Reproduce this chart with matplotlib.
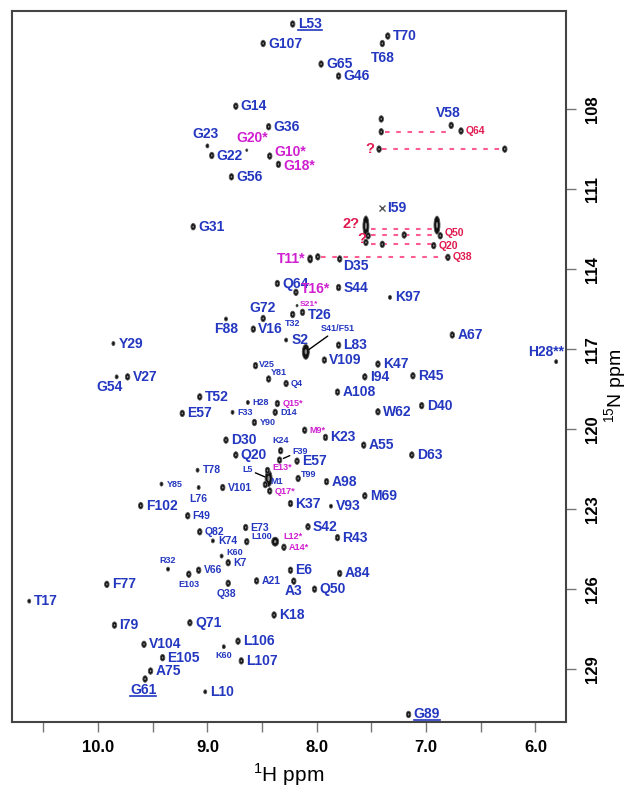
import matplotlib
matplotlib.use('Agg')
import matplotlib.pyplot as plt
from matplotlib.patches import Ellipse
from matplotlib.lines import Line2D
from matplotlib.ticker import MultipleLocator, FormatStrFormatter

plt.rcParams['font.family'] = ['Liberation Sans', 'DejaVu Sans']
plt.rcParams['mathtext.fontset'] = 'custom'
plt.rcParams['mathtext.rm'] = 'Liberation Sans'
plt.rcParams['mathtext.bf'] = 'Liberation Sans:bold'

# assigned backbone amides, big blue labels
blue_labels = ['L53', 'G107', 'G65', 'G46', 'T70', 'T68', 'G14', 'G36', 'G23', 'G22',
               'G56', 'G31', 'V58', 'I59', 'D35', 'Q64', 'S44', 'T26', 'G72', 'F88',
               'V16', 'S2', 'L83', 'V109', 'A108', 'T52', 'E57', 'K23', 'D30', 'Q20',
               'E57', 'A98', 'K47', 'I94', 'R45', 'W62', 'D40', 'A55', 'D63', 'K97',
               'A67', 'H28**', 'Y29', 'V27', 'G54', 'M69', 'K37', 'V93', 'S42', 'R43',
               'E6', 'A3', 'A84', 'Q50', 'K18', 'G89', 'F102', 'F77', 'T17', 'I79',
               'Q71', 'L106', 'V104', 'E105', 'L107', 'A75', 'G61', 'L10']
blue_h = [8.22, 8.49, 7.96, 7.80, 7.35, 7.40, 8.74, 8.44, 9.00, 8.96,
          8.78, 9.13, 6.77, 7.40, 7.79, 8.36, 7.80, 8.13, 8.49, 8.83,
          8.58, 8.28, 7.80, 7.93, 7.81, 9.07, 9.23, 7.92, 8.83, 8.74,
          8.18, 7.91, 7.44, 7.56, 7.12, 7.44, 7.04, 7.57, 7.13, 7.33,
          6.76, 5.81, 9.86, 9.73, 9.83, 7.56, 8.24, 7.87, 8.08, 7.81,
          8.24, 8.21, 7.79, 8.02, 8.39, 7.16, 9.61, 9.92, 10.63, 9.85,
          9.16, 8.72, 9.58, 9.41, 8.69, 9.52, 9.57, 9.02]
blue_n = [104.81, 105.54, 106.31, 106.76, 105.26, 105.54, 107.89, 108.66, 109.38, 109.74,
          110.54, 112.41, 108.61, 111.72, 113.62, 114.54, 114.69, 115.62, 115.85, 115.87,
          116.25, 116.66, 116.85, 117.41, 118.61, 118.79, 119.41, 120.31, 120.41, 120.97,
          121.20, 121.97, 117.56, 118.04, 118.00, 119.35, 119.12, 120.60, 120.97, 115.06,
          116.47, 117.47, 116.79, 118.04, 118.04, 122.50, 122.79, 122.89, 123.66, 124.07,
          125.29, 125.70, 125.41, 126.00, 126.97, 130.70, 122.87, 125.82, 126.45, 127.35,
          127.26, 127.95, 128.07, 128.57, 128.69, 129.07, 129.37, 129.85]

# crowded region, small blue labels
small_labels = ['S41/F51', 'T32', 'V25', 'Y81', 'Q4', 'H28', 'D14', 'F33', 'Y90', 'K24',
                'F39', 'T99', 'L5', 'M1', 'T78', 'Y85', 'L76', 'V101', 'F49', 'Q82',
                'E73', 'K74', 'L100', 'K60', 'K7', 'R32', 'V66', 'E103', 'Q38', 'A21',
                'K60']
small_h = [8.10, 8.22, 8.56, 8.44, 8.28, 8.63, 8.38, 8.77, 8.57, 8.33,
           8.34, 8.17, 8.44, 8.47, 9.09, 9.42, 9.08, 8.86, 9.18, 9.07,
           8.65, 8.95, 8.64, 8.87, 8.81, 9.36, 9.08, 9.17, 8.81, 8.55,
           8.85]
small_n = [117.10, 115.70, 117.62, 118.12, 118.29, 119.00, 119.37, 119.37, 119.75, 120.81,
           121.16, 121.85, 121.85, 122.08, 121.54, 122.06, 122.19, 122.19, 123.25, 123.85,
           123.69, 124.19, 124.22, 124.76, 125.01, 125.25, 125.29, 125.44, 125.78, 125.69,
           128.16]

# starred residues (magenta)
star_labels = ['G20*', 'G10*', 'G18*', 'T11*', 'T16*', 'S21*', 'Q15*', 'M9*', 'E13*',
               'Q17*', 'L12*', 'A14*']
star_h = [8.64, 8.43, 8.35, 8.06, 8.19, 8.18, 8.36, 8.11, 8.45, 8.43, 8.38, 8.30]
star_n = [109.54, 109.76, 110.07, 113.62, 114.87, 115.37, 119.04, 120.04, 121.55,
          122.32, 124.22, 124.43]

# side chain NH2 peaks (red)
red_labels = ['Q64', '?', 'Q50', 'Q20', 'Q38', '2?', '?']
red_h = [6.68, 7.43, 6.87, 6.93, 6.80, 7.55, 7.53]
red_n = [108.82, 109.50, 112.75, 113.12, 113.56, 112.38, 112.75]

# unlabelled partner peaks
other_h = [7.99, 7.41, 6.28, 7.41, 7.55, 7.40, 7.20, 6.90]
other_n = [113.54, 108.85, 109.50, 108.37, 113.00, 113.07, 112.72, 112.35]

# NH2 pairs joined by dashed lines: N shift, H start, H end
pair_n = [108.85, 109.50, 112.51, 112.72, 113.07, 113.56]
pair_h0 = [7.38, 7.40, 7.50, 7.50, 7.50, 7.96]
pair_h1 = [6.78, 6.30, 6.93, 6.93, 6.95, 6.82]

x_ticks = [10.0, 9.0, 8.0, 7.0, 6.0]
y_ticks = [108, 111, 114, 117, 120, 123, 126, 129]

BLUE = '#2337c0'
MAGENTA = '#cf1fd0'
RED = '#e0194f'
PINK = '#ff5d8f'

# label placement codes -> (dx px, dy px, ha)
place = {'r': (5, 0, 'left'), 'a': (0, 11, 'center'), 'b': (0, -11, 'center'),
         'l': (-5, 0, 'right'), 'ar': (3, 4, 'left'), 'br': (3, -7, 'left')}
blue_place = ['r'] * len(blue_labels)
blue_custom = {'T68': (0, -14, 'center'), 'G23': (-2, 12, 'center'), 'V58': (-3, 12, 'center'),
               'D35': 'br', 'G72': (-1, 10, 'center'), 'F88': (0, -10, 'center'),
               'H28**': (-10, 10, 'center'), 'G54': (-7, -10, 'center'), 'A3': (0, -10, 'center'),
               'G61': (-2, -11, 'center'), 'T26': (5, -3, 'left')}
for i, lab in enumerate(blue_labels):
    if lab in blue_custom:
        blue_place[i] = blue_custom[lab]
small_place = [(15, 23, 'left'), (0, -9, 'center'), (3, 1, 'left'), (2, 6, 'left'), 'r', 'r', 'r', 'r',
               'r', (0, 10, 'center'), (13, 9, 'left'), 'ar', (-16, 9, 'right'), (5, 3, 'left'), 'r', 'r',
               (0, -11, 'center'), 'r', 'r', 'r', 'r', 'r', (5, 5, 'left'), (5, 4, 'left'), 'r',
               (0, 9, 'center'), 'r', (0, -10, 'center'), (-2, -11, 'center'), 'r', (0, -9, 'center')]
medium_small = {'T78', 'L76', 'V101', 'F49', 'Q82', 'E73', 'K74', 'K7', 'V66', 'Q38', 'A21'}
leader = {'S41/F51', 'F39', 'L5'}
star_place = [(5, 12, 'center'), (5, 4, 'left'), (5, -2, 'left'), (-5, 0, 'right'), (5, 3, 'left'),
              (3, 1, 'left'), 'r', 'r', (5, 3, 'left'), (5, -1, 'left'), (8, 5, 'left'), 'r']
star_big = {'G20*', 'G10*', 'G18*', 'T11*', 'T16*'}
red_place = ['r', (-5, 0, 'right'), (4, 3, 'left'), 'r', 'r', (-6, 2, 'right'), (-2, -3, 'right')]
red_big = {'?', '2?'}
underlined = {'L53', 'G89', 'G61'}
tiny = {'G20*', 'V93', 'S21*', 'F88', 'G54', 'Y29', 'T17', 'K74', 'K60', 'R32', 'L10', 'H28**',
        'K97', 'S2', 'G23', 'Y85', 'F33', 'H28', 'T78', 'L76'}
big = {'S41/F51': (7, 15), 'L5': (7, 16), 'L12*': (7, 9), '2?': (6, 20), 'T11*': (5, 8)}

fig = plt.figure(figsize=(6.3, 7.87), dpi=100)
ax = fig.add_axes([0.0186, 0.0830, 0.8798, 0.9034])
xlim = (10.79, 5.72)
ylim = (130.97, 104.31)
ax.set_xlim(*xlim)
ax.set_ylim(*ylim)
px_h = 0.8798 * 630 / (xlim[0] - xlim[1])
px_n = 0.9034 * 787 / (ylim[0] - ylim[1])


def peak(h, n, size=(4.5, 6.5)):
    w, hh = size
    ax.add_patch(Ellipse((h, n), w / px_h, hh / px_n, fc='#111111', ec='#555555', lw=0.6, zorder=3))
    if w >= 4.5:
        ax.add_patch(Ellipse((h, n), 0.35 * w / px_h, 0.35 * hh / px_n, fc='#888888', lw=0, zorder=4))


for h0, h1, n in zip(pair_h0, pair_h1, pair_n):
    ax.plot([h0, h1], [n, n], color=PINK, lw=1.5, ls=(0, (2.2, 3.2)), zorder=2)

texts = []


def label(lab, h, n, where, color, fs):
    dx, dy, ha = place[where] if isinstance(where, str) else where
    kw = {}
    if lab in leader:
        kw['arrowprops'] = dict(arrowstyle='-', color='black', lw=1, shrinkA=0, shrinkB=3)
    t = ax.annotate(lab, (h, n), xytext=(dx, dy), textcoords='offset pixels', ha=ha, va='center',
                    color=color, fontsize=fs, fontweight='bold', zorder=5, **kw)
    texts.append((lab, t))


for lab, h, n, where in zip(blue_labels, blue_h, blue_n, blue_place):
    if lab == 'I59':
        ax.plot(h, n, marker='x', color='#555555', ms=4, mew=1)
    else:
        peak(h, n, (3, 4) if lab in tiny else big.get(lab, (4.5, 6.5)))
    label(lab, h, n, where, BLUE, 10)

for lab, h, n, where in zip(small_labels, small_h, small_n, small_place):
    peak(h, n, (3, 4) if lab in tiny else big.get(lab, (4.5, 6.5)))
    label(lab, h, n, where, BLUE, 7.5 if lab in medium_small else 6.5)

for lab, h, n, where in zip(star_labels, star_h, star_n, star_place):
    peak(h, n, (2, 2.5) if lab in tiny else big.get(lab, (4.5, 6.5)))
    fs = 10 if lab in star_big else (6 if lab == 'S21*' else 6.5)
    label(lab, h, n, where, MAGENTA, fs)

for lab, h, n, where in zip(red_labels, red_h, red_n, red_place):
    peak(h, n, big.get(lab, (4.5, 6.5)))
    label(lab, h, n, where, RED, 10.5 if lab in red_big else 7.5)

for h, n in zip(other_h, other_n):
    peak(h, n, (6, 18) if h == 6.90 else (4.5, 6.5))

# axes styling
for s in ['left', 'right', 'top', 'bottom']:
    ax.spines[s].set_color('#444444')
    ax.spines[s].set_linewidth(1.5)
ax.xaxis.set_major_locator(MultipleLocator(1.0))
ax.xaxis.set_minor_locator(MultipleLocator(0.5))
ax.set_xticks(x_ticks)
ax.xaxis.set_major_formatter(FormatStrFormatter('%.1f'))
ax.tick_params(axis='x', which='both', direction='out', length=7, width=1, color='#777777',
               labelsize=12, pad=6)
for t in ax.get_xticklabels():
    t.set_fontweight('bold')
ax.yaxis.tick_right()
ax.set_yticks(y_ticks)
ax.tick_params(axis='y', which='both', direction='out', length=7, width=1, color='#777777',
               labelsize=12, pad=7)
ax.yaxis.set_minor_locator(plt.NullLocator())
for t in ax.get_yticklabels():
    t.set_rotation(90)
    t.set_va('center')
    t.set_ha('left')
    t.set_fontweight('bold')

fig.text(0.458, 0.015, r'$^{1}$H ppm', ha='center', va='center', fontsize=15)
fig.text(0.978, 0.51, r'$^{15}$N ppm', ha='center', va='center', fontsize=14, rotation=90)

# underline some labels
fig.canvas.draw()
renderer = fig.canvas.get_renderer()
inv = fig.transFigure.inverted()
for lab, t in texts:
    if lab in underlined:
        bb = t.get_window_extent(renderer)
        (x0, y0), (x1, _) = inv.transform([(bb.x0, bb.y0 + 1.5), (bb.x1, bb.y0 + 1.5)])
        fig.add_artist(Line2D([x0, x1], [y0, y0], color=BLUE, lw=1.2))

fig.savefig('out.png', dpi=100)
